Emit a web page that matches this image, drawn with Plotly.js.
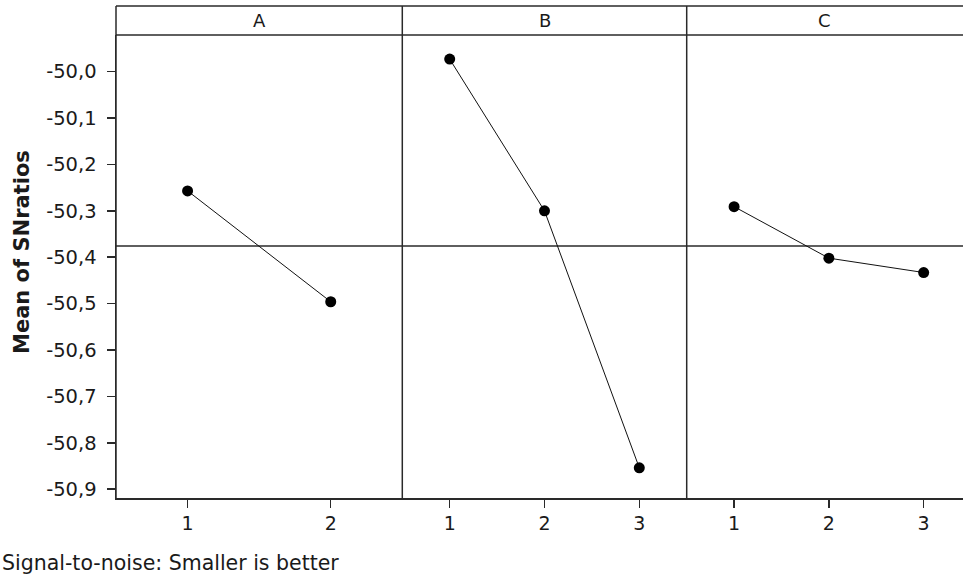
<!DOCTYPE html>
<html>
<head>
<meta charset="utf-8">
<script src="https://cdn.plot.ly/plotly-3.0.1.min.js"></script>
<style>html,body{margin:0;padding:0;background:#fff;}#chart{width:963px;height:578px;}</style>
</head>
<body>
<div id="chart"></div>
<script>
// Data
var factors = ["A", "B", "C"];
var levelsA = [1, 2];
var levelsB = [1, 2, 3];
var levelsC = [1, 2, 3];
var snA = [-50.257, -50.496];
var snB = [-49.973, -50.300, -50.854];
var snC = [-50.291, -50.402, -50.433];
var yTickVals = [-50.9, -50.8, -50.7, -50.6, -50.5, -50.4, -50.3, -50.2, -50.1, -50.0];
var yTitle = "Mean of SNratios";
var footnote = "Signal-to-noise: Smaller is better";

var allVals = snA.concat(snB).concat(snC);
var grandMean = allVals.reduce(function(a, b){ return a + b; }, 0) / allVals.length;

var FONT = "DejaVu Sans, Verdana, sans-serif";
var INK = "#1a1a1a";
var LINE = "#2a2a2a";

function mk(x, y, xa) {
  return {
    x: x, y: y, xaxis: xa, yaxis: "y",
    type: "scatter", mode: "lines+markers",
    line: {color: "#111", width: 1},
    marker: {color: "#000", size: 11},
    hoverinfo: "x+y", showlegend: false
  };
}

var traces = [mk(levelsA, snA, "x"), mk(levelsB, snB, "x2"), mk(levelsC, snC, "x3")];

var L = 116, W = 963 - L;
var dA = [0, 286.3 / W], dB = [286.3 / W, 570.7 / W], dC = [570.7 / W, 1];
var plotH = 578 - 35 - 80;
var headTop = 1 + 29 / plotH;

function xax(dom, rng, vals) {
  return {
    domain: dom, range: rng, anchor: "y",
    tickvals: vals, ticktext: vals.map(String),
    ticks: "outside", ticklen: 8, tickwidth: 1.5, tickcolor: LINE,
    showline: true, linecolor: LINE, linewidth: 1.5,
    showgrid: false, zeroline: false, fixedrange: true,
    tickfont: {family: FONT, size: 19, color: INK}
  };
}

var shapes = [
  {type: "line", xref: "paper", yref: "y", x0: 0, x1: 1, y0: grandMean, y1: grandMean,
   line: {color: LINE, width: 1.5}, layer: "below"},
  {type: "line", xref: "paper", yref: "paper", x0: 0, x1: 1, y0: headTop, y1: headTop, line: {color: LINE, width: 1.5}},
  {type: "line", xref: "paper", yref: "paper", x0: 0, x1: 1, y0: 1, y1: 1, line: {color: LINE, width: 1.5}},
  {type: "line", xref: "paper", yref: "paper", x0: 0, x1: 0, y0: 0, y1: headTop, line: {color: LINE, width: 1.5}},
  {type: "line", xref: "paper", yref: "paper", x0: dB[0], x1: dB[0], y0: 0, y1: headTop, line: {color: LINE, width: 1.5}},
  {type: "line", xref: "paper", yref: "paper", x0: dC[0], x1: dC[0], y0: 0, y1: headTop, line: {color: LINE, width: 1.5}}
];

var doms = [dA, dB, dC];
var annotations = factors.map(function(f, i) {
  return {text: f, xref: "paper", yref: "paper", x: (doms[i][0] + doms[i][1]) / 2,
          y: (1 + headTop) / 2, xanchor: "center", yanchor: "middle", showarrow: false,
          font: {family: FONT, size: 18, color: INK}};
});
annotations.push({text: "<b>" + yTitle + "</b>", xref: "paper", yref: "paper",
  x: -(L - 22) / W, y: (498 - 252) / plotH, textangle: -90,
  xanchor: "center", yanchor: "middle", showarrow: false,
  font: {family: FONT, size: 21, color: INK}});
annotations.push({text: footnote, xref: "paper", yref: "paper",
  x: -L / W, y: -(563 - 498) / plotH, xanchor: "left", yanchor: "middle", showarrow: false,
  font: {family: FONT, size: 20.5, color: INK}});

var layout = {
  width: 963, height: 578,
  margin: {l: L, r: 0, t: 35, b: 80, pad: 0},
  paper_bgcolor: "#fff", plot_bgcolor: "#fff",
  showlegend: false,
  xaxis: xax(dA, [0.5, 2.5], levelsA),
  xaxis2: xax(dB, [0.5, 3.5], levelsB),
  xaxis3: xax(dC, [0.5, 3.415], levelsC),
  yaxis: {
    domain: [0, 1], range: [-50.919, -49.921], anchor: "x",
    tickvals: yTickVals,
    ticktext: yTickVals.map(function(v){ return v.toFixed(1).replace(".", ","); }),
    ticks: "outside", ticklen: 8, tickwidth: 1.5, tickcolor: LINE,
    ticklabelstandoff: 6,
    showline: true, linecolor: LINE, linewidth: 1.5,
    showgrid: false, zeroline: false, fixedrange: true,
    tickfont: {family: FONT, size: 19.5, color: INK}
  },
  shapes: shapes,
  annotations: annotations
};

Plotly.newPlot("chart", traces, layout, {displayModeBar: false, staticPlot: true});
</script>
</body>
</html>
